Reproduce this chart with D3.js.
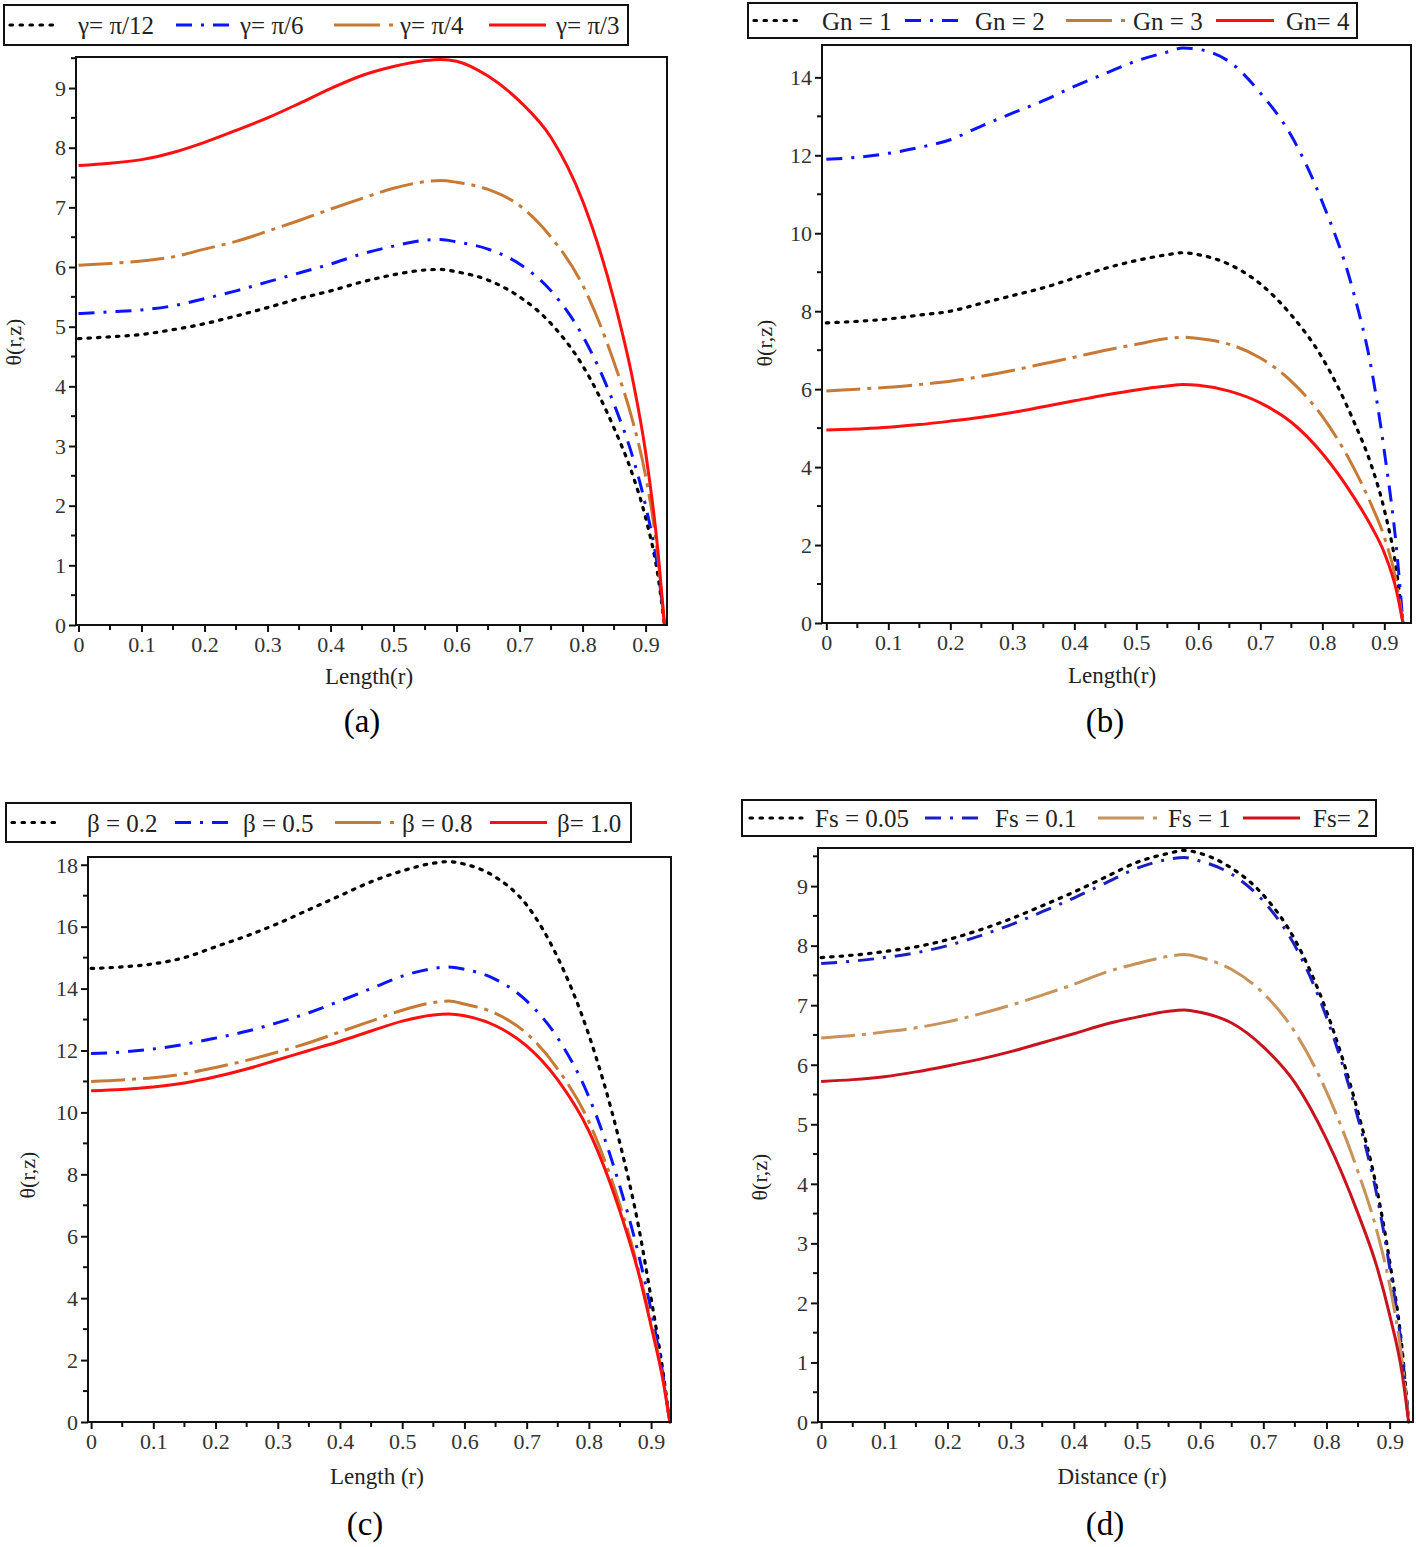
<!DOCTYPE html>
<html><head><meta charset="utf-8">
<script src="https://cdn.jsdelivr.net/npm/d3@7"></script>
<style>
html,body{margin:0;padding:0;background:#fff;}
text{font-family:"Liberation Serif","DejaVu Serif",serif;}
</style></head>
<body><svg id="chart" width="1416" height="1547"></svg>
<script>
// ---------- DATA ----------
const xs = [0,0.05,0.1,0.15,0.2,0.25,0.3,0.35,0.4,0.45,0.5,0.55,0.575,0.6,0.65,0.7,0.75,0.8,0.85,0.88,0.9,0.92,0.93];

// panel (a): gamma
const aLabels = ["γ= π/12","γ= π/6","γ= π/4","γ= π/3"];
const aBlack  = [4.80,4.83,4.87,4.95,5.05,5.18,5.32,5.47,5.60,5.75,5.87,5.95,5.96,5.92,5.78,5.50,5.05,4.35,3.30,2.50,1.80,0.80,0];
const aBlue   = [5.22,5.25,5.28,5.35,5.47,5.60,5.75,5.90,6.05,6.22,6.35,6.45,6.46,6.42,6.30,6.05,5.60,4.85,3.70,2.80,2.00,0.90,0];
const aOrange = [6.03,6.06,6.10,6.17,6.30,6.43,6.60,6.78,6.97,7.15,7.32,7.43,7.45,7.42,7.30,7.03,6.50,5.70,4.40,3.40,2.50,1.10,0];
const aRed    = [7.70,7.74,7.80,7.92,8.09,8.29,8.50,8.74,8.99,9.21,9.36,9.46,9.48,9.45,9.20,8.78,8.17,7.11,5.44,4.09,2.90,1.20,0];

// panel (b): Gn
const bLabels = ["Gn = 1","Gn = 2","Gn = 3","Gn= 4"];
const bBlack  = [7.70,7.74,7.80,7.90,8.00,8.20,8.40,8.60,8.85,9.10,9.30,9.45,9.50,9.45,9.20,8.70,7.90,6.80,5.20,4.00,2.90,1.30,0];
const bBlue   = [11.90,11.95,12.05,12.20,12.40,12.75,13.08,13.40,13.77,14.10,14.42,14.65,14.75,14.72,14.40,13.60,12.50,10.80,8.50,6.45,4.40,1.85,0];
const bOrange = [5.95,6.00,6.05,6.12,6.20,6.33,6.48,6.65,6.82,7.00,7.15,7.30,7.33,7.30,7.15,6.80,6.20,5.30,4.00,3.00,2.20,1.00,0];
const bRed    = [4.95,4.98,5.02,5.09,5.18,5.28,5.40,5.55,5.70,5.85,5.98,6.08,6.12,6.10,5.95,5.65,5.15,4.35,3.25,2.45,1.80,0.80,0];

// panel (c): beta
const cLabels = ["β = 0.2","β = 0.5","β = 0.8","β= 1.0"];
const cBlack  = [14.65,14.70,14.80,15.00,15.35,15.70,16.10,16.55,17.00,17.45,17.80,18.05,18.10,18.02,17.60,16.70,15.00,12.50,9.00,6.30,4.00,1.50,0];
const cBlue   = [11.90,11.95,12.05,12.20,12.40,12.62,12.90,13.22,13.60,14.00,14.40,14.65,14.70,14.62,14.30,13.60,12.40,10.50,7.60,5.40,3.60,1.40,0];
const cOrange = [11.00,11.05,11.12,11.25,11.45,11.68,11.95,12.25,12.60,12.95,13.30,13.55,13.60,13.50,13.20,12.55,11.40,9.70,7.00,4.90,3.20,1.30,0];
const cRed    = [10.70,10.74,10.82,10.95,11.15,11.40,11.70,12.00,12.30,12.63,12.95,13.15,13.18,13.12,12.80,12.15,11.05,9.40,6.80,4.80,3.10,1.25,0];

// panel (d): Fs
const dLabels = ["Fs = 0.05","Fs = 0.1","Fs = 1","Fs= 2"];
const dBlack  = [7.80,7.84,7.90,7.98,8.10,8.26,8.45,8.67,8.90,9.15,9.40,9.55,9.60,9.55,9.30,8.85,8.10,6.90,5.20,3.90,2.70,1.20,0];
const dBlue   = [7.70,7.74,7.80,7.88,8.00,8.16,8.35,8.57,8.80,9.05,9.30,9.45,9.48,9.42,9.20,8.75,8.00,6.80,5.10,3.80,2.60,1.15,0];
const dOrange = [6.45,6.49,6.55,6.62,6.72,6.85,7.00,7.17,7.35,7.55,7.70,7.82,7.85,7.80,7.60,7.20,6.55,5.55,4.20,3.20,2.30,1.00,0];
const dRed    = [5.72,5.75,5.80,5.88,5.98,6.09,6.22,6.37,6.52,6.68,6.80,6.90,6.92,6.88,6.70,6.30,5.70,4.75,3.50,2.60,1.80,0.80,0];

const xTicks = [0,0.1,0.2,0.3,0.4,0.5,0.6,0.7,0.8,0.9];
const xTickLabels = ["0","0.1","0.2","0.3","0.4","0.5","0.6","0.7","0.8","0.9"];
const aYTicks = [0,1,2,3,4,5,6,7,8,9];
const bYTicks = [0,2,4,6,8,10,12,14];
const cYTicks = [0,2,4,6,8,10,12,14,16,18];
const dYTicks = [0,1,2,3,4,5,6,7,8,9];

// ---------- STYLES / LAYOUT ----------
const styleSets = {
  normal: [
    {color:"#000000", dash:"2.5,7", cap:"round", w:3.2},
    {color:"#0a14ff", dash:"16,9,3,9", cap:"butt", w:3},
    {color:"#c87a35", dash:"34,7,4,7", cap:"butt", w:3},
    {color:"#ff1010", dash:null, cap:"butt", w:3}
  ],
  d: [
    {color:"#000000", dash:"2.5,7", cap:"round", w:3.2},
    {color:"#1a1fbf", dash:"16,9,3,9", cap:"butt", w:3},
    {color:"#c8935a", dash:"34,7,4,7", cap:"butt", w:3},
    {color:"#c8141e", dash:null, cap:"butt", w:3}
  ]
};
const legendDash = ["2.5,7.5", "16,9,3,9", "46,9,4,200", null];

const panels = [
  {id:"(a)", series:[aBlack,aBlue,aOrange,aRed], labels:aLabels, yTicks:aYTicks, yMinorStep:0.5,
   frame:{l:76,r:667,t:57,b:625}, xDom:[-0.004,0.934], yDom:[0,9.52], xlab:"Length(r)",
   xlabPos:[369,684], capPos:[362,732], ylabPos:[14,342], styles:"normal",
   legend:{x:4,y:5,w:624,h:40, items:[[10,55,78],[176,235,240],[334,393,400],[489,546,556]]}},
  {id:"(b)", series:[bBlack,bBlue,bOrange,bRed], labels:bLabels, yTicks:bYTicks, yMinorStep:1,
   frame:{l:822,r:1411,t:45,b:623}, xDom:[-0.007,0.943], yDom:[0,14.83], xlab:"Length(r)",
   xlabPos:[1112,683], capPos:[1105,732], ylabPos:[765,343], styles:"normal",
   legend:{x:748,y:3,w:609,h:35, items:[[754,797,822],[905,963,975],[1066,1126,1133],[1216,1274,1286]]}},
  {id:"(c)", series:[cBlack,cBlue,cOrange,cRed], labels:cLabels, yTicks:cYTicks, yMinorStep:1,
   frame:{l:88,r:671,t:857,b:1422}, xDom:[-0.005,0.932], yDom:[0,18.25], xlab:"Length (r)",
   xlabPos:[377,1484], capPos:[365,1535], ylabPos:[28,1175], styles:"normal",
   legend:{x:6,y:803,w:625,h:39, items:[[12,55,87],[175,232,243],[335,394,402],[490,547,557]]}},
  {id:"(d)", series:[dBlack,dBlue,dOrange,dRed], labels:dLabels, yTicks:dYTicks, yMinorStep:0.5,
   frame:{l:818,r:1413,t:848,b:1422}, xDom:[-0.005,0.937], yDom:[0,9.64], xlab:"Distance (r)",
   xlabPos:[1112,1484], capPos:[1105,1535], ylabPos:[760,1177], styles:"d",
   legend:{x:742,y:800,w:634,h:36, items:[[750,802,815],[925,985,995],[1098,1159,1168],[1243,1300,1313]]}}
];

const svg = d3.select("#chart");

panels.forEach(p => {
  const f = p.frame;
  const x = d3.scaleLinear().domain(p.xDom).range([f.l, f.r]);
  const y = d3.scaleLinear().domain(p.yDom).range([f.b, f.t]);
  const g = svg.append("g");
  const styles = styleSets[p.styles];

  const cid = "clip" + p.id.replace(/[()]/g,"");
  svg.append("clipPath").attr("id", cid).append("rect")
    .attr("x", f.l).attr("y", f.t - 2).attr("width", f.r - f.l).attr("height", f.b - f.t + 4);

  const line = d3.line().x((d,i) => x(xs[i])).y(d => y(d)).curve(d3.curveMonotoneX);
  p.series.forEach((s, i) => {
    const st = styles[i];
    g.append("path").datum(s).attr("d", line)
      .attr("fill","none").attr("stroke", st.color).attr("stroke-width", st.w)
      .attr("stroke-dasharray", st.dash).attr("stroke-linecap", st.cap)
      .attr("clip-path", `url(#${cid})`);
  });

  g.append("rect").attr("x", f.l).attr("y", f.t).attr("width", f.r - f.l).attr("height", f.b - f.t)
    .attr("fill","none").attr("stroke","#111").attr("stroke-width",2);

  const xAxis = d3.axisBottom(x).tickValues(xTicks).tickSize(7).tickPadding(4)
    .tickFormat((d,i) => xTickLabels[i]);
  const xg = g.append("g").attr("transform", `translate(0,${f.b})`).call(xAxis);
  const xMinor = d3.range(0.05, 0.9, 0.1);
  xg.selectAll(".minor").data(xMinor).enter().append("line").attr("class","minor")
    .attr("x1", d => x(d)).attr("x2", d => x(d)).attr("y1", 0).attr("y2", 5)
    .attr("stroke","#111").attr("stroke-width",2);

  const yAxis = d3.axisLeft(y).tickValues(p.yTicks).tickSize(7).tickPadding(3).tickFormat(d3.format("d"));
  const yg = g.append("g").attr("transform", `translate(${f.l},0)`).call(yAxis);
  const yMinor = [];
  for (let v = p.yMinorStep; v < p.yDom[1]; v += p.yMinorStep) {
    if (!p.yTicks.some(t => Math.abs(t - v) < 1e-6)) yMinor.push(v);
  }
  yg.selectAll(".minor").data(yMinor).enter().append("line").attr("class","minor")
    .attr("x1", -5).attr("x2", 0).attr("y1", d => y(d)).attr("y2", d => y(d))
    .attr("stroke","#111").attr("stroke-width",2);

  [xg, yg].forEach(ax => {
    ax.select(".domain").remove();
    ax.selectAll(".tick line").attr("stroke","#111").attr("stroke-width",2);
    ax.selectAll(".tick text").attr("fill","#333").style("font-size","22px")
      .style("font-family","'Liberation Serif',serif");
  });
  yg.selectAll(".tick text").attr("dy","0.33em");

  g.append("text").attr("x", p.xlabPos[0]).attr("y", p.xlabPos[1]).attr("text-anchor","middle")
    .style("font-size","23px").attr("fill","#222").text(p.xlab);
  g.append("text").attr("transform", `translate(${p.ylabPos[0] + 7},${p.ylabPos[1]}) rotate(-90)`)
    .attr("text-anchor","middle").style("font-size","22px").attr("fill","#222").text("θ(r,z)");
  g.append("text").attr("x", p.capPos[0]).attr("y", p.capPos[1]).attr("text-anchor","middle")
    .style("font-size","33px").attr("fill","#000").text(p.id);

  const L = p.legend;
  g.append("rect").attr("x", L.x).attr("y", L.y).attr("width", L.w).attr("height", L.h)
    .attr("fill","#fff").attr("stroke","#111").attr("stroke-width",2);
  const cy = L.y + L.h / 2;
  L.items.forEach((it, i) => {
    const st = styles[i];
    g.append("line").attr("x1", it[0]).attr("x2", it[1]).attr("y1", cy).attr("y2", cy)
      .attr("stroke", st.color).attr("stroke-width", st.w)
      .attr("stroke-dasharray", legendDash[i]).attr("stroke-linecap", st.cap);
    g.append("text").attr("x", it[2]).attr("y", cy + 9).style("font-size","25px")
      .attr("fill","#222").text(p.labels[i]);
  });
});
</script></body></html>
